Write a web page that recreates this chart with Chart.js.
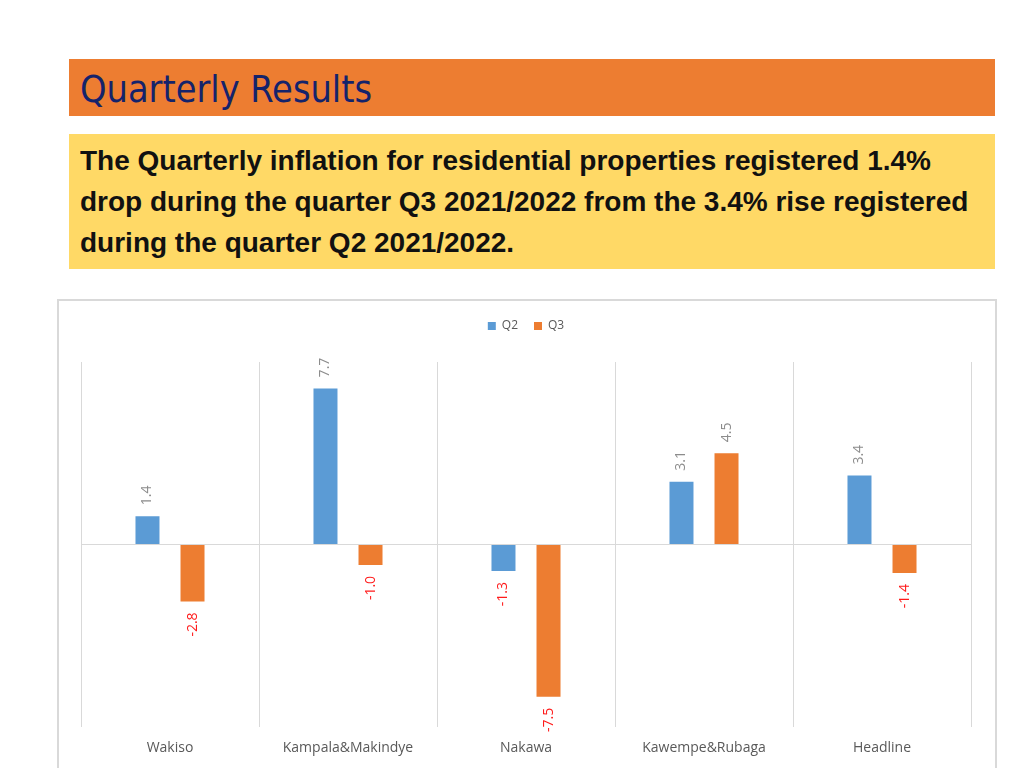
<!DOCTYPE html>
<html>
<head>
<meta charset="utf-8">
<script src="https://cdn.jsdelivr.net/npm/chart.js@4"></script>
<style>
  body { margin: 0; width: 1024px; height: 768px; background: #fff; position: relative; overflow: hidden; }
  .header { position: absolute; left: 69px; top: 59px; width: 926px; height: 57px; background: #ED7D31; }
  .header span { position: absolute; left: 11px; top: 8px; font-family: "DejaVu Sans Condensed", "DejaVu Sans", sans-serif; font-size: 37.5px; color: #14236B; white-space: nowrap; }
  .note { position: absolute; left: 69px; top: 134px; width: 926px; height: 135px; background: #FFD966; }
  .note p { margin: 0; position: absolute; left: 11px; top: 7px; font-family: "Liberation Sans", Arial, sans-serif; font-weight: bold; font-size: 27px; line-height: 41px; color: #111; white-space: nowrap; }
  .note span { display: block; width: max-content; transform-origin: 0 0; }
  .box { position: absolute; left: 57px; top: 299px; width: 936px; height: 467px; border: 2px solid #D9D9D9; }
  canvas { display: block; }
</style>
</head>
<body>
<div class="header"><span>Quarterly Results</span></div>
<div class="note"><p><span>The Quarterly inflation for residential properties registered 1.4%</span><span>drop during the quarter Q3 2021/2022 from the 3.4% rise registered</span><span>during the quarter Q2 2021/2022.</span></p></div>
<div class="box"><canvas id="c" width="936" height="467"></canvas></div>
<script>
const regions = ['Wakiso', 'Kampala&Makindye', 'Nakawa', 'Kawempe&Rubaga', 'Headline'];
const q2 = [1.4, 7.7, -1.3, 3.1, 3.4];
const q3 = [-2.8, -1.0, -7.5, 4.5, -1.4];

// squeeze the note lines to the width they have in the slide
const lines = document.querySelectorAll('.note span');
const sx = 851 / lines[0].getBoundingClientRect().width;
lines.forEach(s => { s.style.transform = 'scaleX(' + sx + ')'; });

const valueLabels = {
  id: 'valueLabels',
  afterDatasetsDraw(chart) {
    const ctx = chart.ctx;
    ctx.save();
    ctx.font = '14px "Open Sans", sans-serif';
    ctx.textBaseline = 'middle';
    chart.data.datasets.forEach((ds, i) => {
      chart.getDatasetMeta(i).data.forEach((bar, j) => {
        const v = ds.data[j];
        ctx.save();
        if (v >= 0) {
          ctx.translate(bar.x, bar.y - 11);
          ctx.textAlign = 'left';
          ctx.fillStyle = '#8C8C8C';
        } else {
          ctx.translate(bar.x, bar.y + 11);
          ctx.textAlign = 'right';
          ctx.fillStyle = '#FF1A1A';
        }
        ctx.rotate(-Math.PI / 2);
        ctx.fillText(v.toFixed(1), 0, 0);
        ctx.restore();
      });
    });
    ctx.restore();
  }
};

// legend takes more room below it than chart.js gives by default
const legendGap = {
  id: 'legendGap',
  beforeLayout(chart) {
    const lg = chart.legend;
    if (!lg || lg._patched) return;
    const fit = lg.fit;
    lg.fit = function () { fit.call(this); this.height = 58; };
    lg._patched = true;
  }
};

new Chart(document.getElementById('c'), {
  type: 'bar',
  data: {
    labels: regions,
    datasets: [
      { label: 'Q2', data: q2, backgroundColor: '#5B9BD5' },
      { label: 'Q3', data: q3, backgroundColor: '#ED7D31' }
    ]
  },
  options: {
    responsive: false,
    animation: false,
    categoryPercentage: 0.506,
    barPercentage: 0.533,
    layout: { padding: { left: 22, right: 24, top: 3, bottom: 0 } },
    plugins: {
      legend: {
        position: 'top',
        labels: {
          boxWidth: 8, boxHeight: 8, padding: 16,
          color: '#595959',
          font: { family: '"Open Sans", sans-serif', size: 12 }
        }
      },
      tooltip: { enabled: false }
    },
    scales: {
      x: {
        grid: { offset: true, color: '#D9D9D9', drawTicks: false },
        border: { display: false },
        ticks: { color: '#595959', font: { family: '"Open Sans", sans-serif', size: 14 }, padding: 12 }
      },
      y: {
        min: -9, max: 9,
        ticks: { display: false, stepSize: 3 },
        grid: { drawTicks: false, color: c => c.tick.value === 0 ? '#D9D9D9' : 'transparent' },
        border: { display: false }
      }
    }
  },
  plugins: [valueLabels, legendGap]
});
</script>
</body>
</html>
